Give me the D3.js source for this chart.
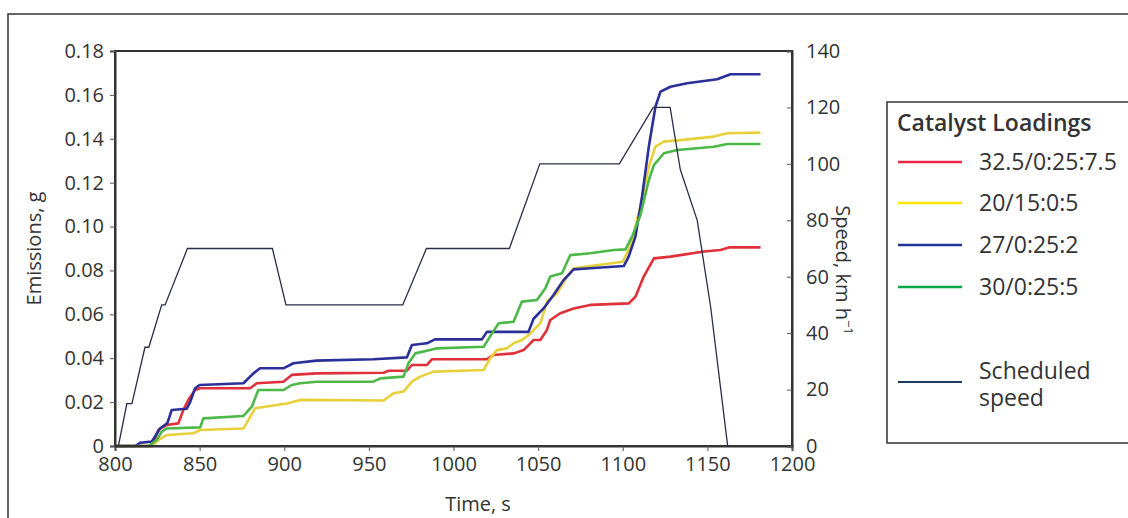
<!DOCTYPE html>
<html>
<head>
<meta charset="utf-8">
<script src="https://cdn.jsdelivr.net/npm/d3@7"></script>
<style>
  body { margin: 0; background: #fff; }
  svg text { font-family: "Open Sans", "Noto Sans", sans-serif; fill: #333; }
</style>
</head>
<body>
<svg id="chart" width="1128" height="518"></svg>
<script>
// tick values
var timeTicks = [800, 850, 900, 950, 1000, 1050, 1100, 1150, 1200];
var emisTicks = [0, 0.02, 0.04, 0.06, 0.08, 0.10, 0.12, 0.14, 0.16, 0.18];
var speedTicks = [0, 20, 40, 60, 80, 100, 120, 140];

// scheduled speed [time s, km/h]
var speedData = [
    [800, 0], [802, 0], [807, 15], [810, 15], [817.7, 35], [820, 35], [827.6, 50], [829.6, 50],
    [842.8, 70], [893, 70], [901, 50], [970, 50], [984, 70], [1033, 70], [1051, 100],
    [1098, 100], [1118, 120], [1128, 120], [1134, 98], [1144, 80], [1152, 49], [1162, 0], [1180, 0]
];

// emissions [time s, g]
var red = [
    [800, 0], [822, 0], [825.6, 0.0073], [830.5, 0.0096], [837.4, 0.0103], [840.4, 0.0164],
    [843.3, 0.021], [847.3, 0.0255], [850.3, 0.0263], [879.8, 0.0263], [883.8, 0.0286],
    [899.5, 0.0293], [904.4, 0.0324], [919.2, 0.0331], [958.7, 0.0334], [961.6, 0.0343],
    [972.5, 0.0343], [975.4, 0.0369], [984.3, 0.0369], [987.2, 0.0395], [1019.7, 0.0395],
    [1023.7, 0.0415], [1035.5, 0.0422], [1041.4, 0.0437], [1044.4, 0.046], [1047.3, 0.0483],
    [1051.3, 0.0483], [1055.2, 0.0529], [1057.2, 0.0574], [1063.1, 0.0605], [1071, 0.0627],
    [1080.8, 0.0643], [1103.6, 0.065], [1107.5, 0.068], [1112.4, 0.0772], [1118.4, 0.0855],
    [1128.2, 0.0863], [1147.9, 0.0886], [1157.8, 0.0893], [1162.7, 0.0905], [1181.4, 0.0905]
];
var yellow = [
    [800, 0], [822, 0], [825.6, 0.0027], [830.5, 0.005], [846.3, 0.0058], [850.3, 0.0073],
    [875.9, 0.008], [878.8, 0.0118], [882.8, 0.0172], [901.5, 0.0194], [909.4, 0.021],
    [958.7, 0.0207], [964.5, 0.024], [970.5, 0.0248], [975.4, 0.0293], [980.3, 0.0316],
    [988.2, 0.0339], [1017.8, 0.0346], [1021.7, 0.04], [1025.7, 0.0437], [1031.6, 0.0445],
    [1035.5, 0.0468], [1040.5, 0.0483], [1045.4, 0.0513], [1051.3, 0.0559], [1055.3, 0.0658],
    [1061.2, 0.0696], [1067.1, 0.0772], [1071, 0.081], [1100, 0.084], [1105, 0.092],
    [1110, 0.108], [1115.4, 0.1273], [1119.3, 0.1364], [1124.3, 0.1387], [1134.1, 0.1394],
    [1153.8, 0.141], [1161.7, 0.1425], [1181.4, 0.1428]
];
var blue = [
    [800, 0], [812, 0], [815, 0.0015], [821.7, 0.002], [826.6, 0.008], [831, 0.0105],
    [833.5, 0.0164], [842.4, 0.017], [844.4, 0.02], [847.3, 0.0263], [850, 0.0278],
    [875.9, 0.0286], [881.8, 0.0331], [885.7, 0.0354], [899.5, 0.0354], [905.4, 0.0377],
    [919, 0.0389], [952.6, 0.0395], [972.5, 0.0404], [975.4, 0.046], [984.3, 0.0468],
    [989, 0.0486], [1016.8, 0.0486], [1019.7, 0.052], [1044.3, 0.052], [1047.3, 0.058],
    [1053.2, 0.0627], [1059.1, 0.0688], [1065, 0.0756], [1071, 0.0805], [1080.8, 0.081],
    [1100.6, 0.082], [1103.5, 0.0863], [1107.5, 0.0954], [1111.4, 0.1136], [1115.4, 0.1364],
    [1119.3, 0.1546], [1122.3, 0.1615], [1128.2, 0.1637], [1138, 0.1653], [1155.8, 0.1671],
    [1163.6, 0.1694], [1181.4, 0.1694]
];
var green = [
    [800, 0], [820, 0], [824.6, 0.0027], [827.6, 0.0065], [830.5, 0.008], [850.3, 0.0085],
    [852.2, 0.0126], [875.9, 0.0137], [880.8, 0.0179], [884.7, 0.0255], [899.5, 0.0255],
    [904.4, 0.0278], [909.4, 0.0286], [919.2, 0.0293], [952.7, 0.0293], [956.7, 0.0308],
    [970.5, 0.0316], [973.4, 0.0377], [977.4, 0.0422], [986.2, 0.0437], [990.2, 0.0445],
    [1017.8, 0.0452], [1022.7, 0.0513], [1026.7, 0.0559], [1035.5, 0.0566], [1040.4, 0.0658],
    [1049.3, 0.0665], [1054.2, 0.0718], [1057.2, 0.0772], [1064.1, 0.0787], [1069, 0.087],
    [1080.8, 0.0878], [1094.7, 0.0893], [1101.6, 0.0896], [1105.5, 0.0954], [1110.5, 0.1053],
    [1115.4, 0.1212], [1118.4, 0.128], [1124.3, 0.1334], [1132.2, 0.1349], [1153.8, 0.1364],
    [1161.7, 0.1376], [1181.4, 0.1376]
];

var seriesNames = ["32.5/0:25:7.5", "20/15:0:5", "27/0:25:2", "30/0:25:5"];
var seriesData = [red, yellow, blue, green];
var lineColors = ["#e0303a", "#e8d03a", "#2b2f9a", "#4cb848"];
var legendColors = ["#e8264a", "#ffe600", "#22329a", "#0aa84a"];
var speedColor = "#2a2d45";

drawChart();

function drawChart() {
    var svg = d3.select("#chart");
    var pLeft = 115, pRight = 792, pTop = 51, pBottom = 446;

    // outer frame
    svg.append("rect")
        .attr("x", 8).attr("y", 14)
        .attr("width", 1150).attr("height", 540)
        .attr("fill", "none").attr("stroke", "#333").attr("stroke-width", 1.5);

    var x = d3.scaleLinear().domain([800, 1200]).range([pLeft, pRight]);
    var yE = d3.scaleLinear().domain([0, 0.18]).range([pBottom, pTop]);
    var yS = d3.scaleLinear().domain([0, 140]).range([pBottom, pTop]);

    // lines
    var lineE = d3.line().x(d => x(d[0])).y(d => yE(d[1]));
    var lineS = d3.line().x(d => x(d[0])).y(d => yS(d[1]));

    [0, 1, 2, 3].forEach(i => {
        svg.append("path")
            .datum(seriesData[i])
            .attr("d", lineE)
            .attr("fill", "none")
            .attr("stroke", lineColors[i])
            .attr("stroke-width", 2.6)
            .attr("stroke-linejoin", "round");
    });

    svg.append("path")
        .datum(speedData)
        .attr("d", lineS)
        .attr("fill", "none")
        .attr("stroke", speedColor)
        .attr("stroke-width", 1.3);

    // plot box
    svg.append("rect")
        .attr("x", pLeft).attr("y", pTop)
        .attr("width", pRight - pLeft).attr("height", pBottom - pTop)
        .attr("fill", "none").attr("stroke", "#333").attr("stroke-width", 2);

    var xAxis = svg.append("g")
        .attr("transform", "translate(0," + pBottom + ")")
        .call(d3.axisBottom(x).tickValues(timeTicks).tickSize(5).tickPadding(6).tickFormat(d3.format("d")));
    var yAxisL = svg.append("g")
        .attr("transform", "translate(" + pLeft + ",0)")
        .call(d3.axisLeft(yE).tickValues(emisTicks).tickSize(5).tickPadding(6)
            .tickFormat(d => d == 0 ? "0" : d.toFixed(2)));
    var yAxisR = svg.append("g")
        .attr("transform", "translate(" + pRight + ",0)")
        .call(d3.axisRight(yS).tickValues(speedTicks).tickSize(-5).tickPadding(14));

    [xAxis, yAxisL, yAxisR].forEach(g => {
        g.select(".domain").attr("stroke", "#333").attr("stroke-width", 2);
        g.selectAll(".tick line").attr("stroke", "#555");
        g.selectAll(".tick text").attr("font-size", 20).attr("fill", "#333")
            .style("font-family", "'Open Sans', sans-serif");
    });

    // axis titles
    svg.append("text")
        .attr("x", 478).attr("y", 511)
        .attr("text-anchor", "middle").attr("font-size", 20)
        .text("Time, s");
    svg.append("text")
        .attr("transform", "translate(41," + ((pTop + pBottom) / 2) + ") rotate(-90)")
        .attr("text-anchor", "middle").attr("font-size", 20)
        .text("Emissions, g");
    var st = svg.append("text")
        .attr("transform", "translate(836,270) rotate(90)")
        .attr("text-anchor", "middle").attr("font-size", 20);
    st.append("tspan").text("Speed, km h");
    st.append("tspan").attr("font-size", 13).attr("dy", -8).text("\u22121");

    // legend
    var lg = svg.append("g");
    lg.append("rect")
        .attr("x", 887).attr("y", 102)
        .attr("width", 300).attr("height", 341)
        .attr("fill", "#fff").attr("stroke", "#333").attr("stroke-width", 1.5);
    lg.append("text")
        .attr("x", 897).attr("y", 131)
        .attr("font-size", 23).attr("font-weight", 600)
        .text("Catalyst Loadings");

    var legendY = [162, 203, 245, 287];
    seriesNames.forEach((name, i) => {
        lg.append("line")
            .attr("x1", 898).attr("x2", 962)
            .attr("y1", legendY[i]).attr("y2", legendY[i])
            .attr("stroke", legendColors[i]).attr("stroke-width", 2.5);
        lg.append("text")
            .attr("x", 979).attr("y", legendY[i] + 8)
            .attr("font-size", 23)
            .text(name);
    });
    lg.append("line")
        .attr("x1", 898).attr("x2", 962)
        .attr("y1", 382).attr("y2", 382)
        .attr("stroke", "#1f3a5f").attr("stroke-width", 2);
    lg.append("text").attr("x", 979).attr("y", 379).attr("font-size", 23).text("Scheduled");
    lg.append("text").attr("x", 979).attr("y", 406).attr("font-size", 23).text("speed");
}
</script>
</body>
</html>
